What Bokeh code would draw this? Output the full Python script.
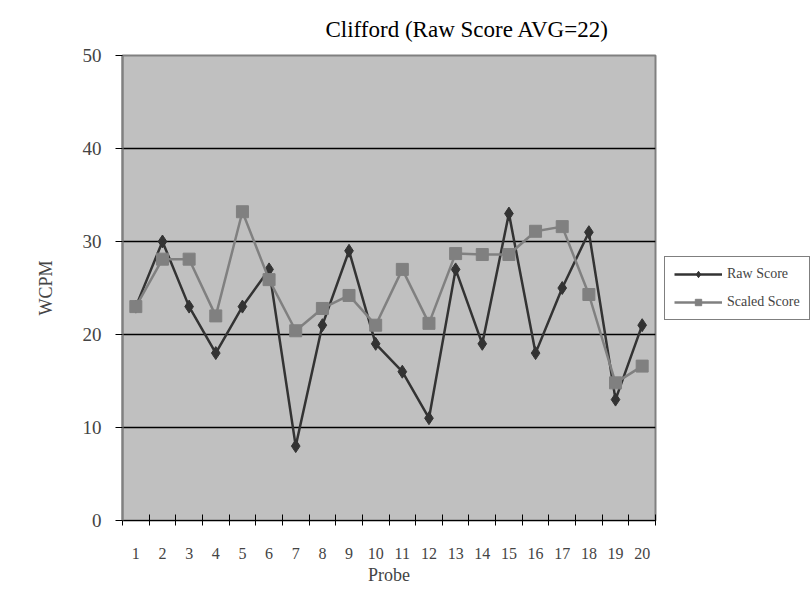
from bokeh.plotting import figure
from bokeh.models import (Legend, LegendItem, FixedTicker, Title, ColumnDataSource)
from bokeh.embed import file_html
from bokeh.resources import INLINE

probes = list(range(1, 21))
raw_score = [23, 30, 23, 18, 23, 27, 8, 21, 29, 19, 16, 11, 27, 19, 33, 18, 25, 31, 13, 21]
scaled_score = [23, 28.1, 28.1, 22, 33.2, 25.9, 20.4, 22.8, 24.2, 21.0, 27.0, 21.2,
                28.7, 28.6, 28.6, 31.1, 31.6, 24.3, 14.8, 16.6]
y_ticks = [0, 10, 20, 30, 40, 50]
title_text = "Clifford (Raw Score AVG=22)"

FONT = "Liberation Serif"

src = ColumnDataSource(dict(x=probes, raw=raw_score, scaled=scaled_score))

p = figure(frame_width=533, frame_height=465, output_backend="svg", toolbar_location=None,
           x_range=(0.5, 20.5), y_range=(0, 50),
           min_border_left=122, min_border_right=0, min_border_top=0, min_border_bottom=68)
p.border_fill_color = "white"
p.background_fill_color = "#C0C0C0"
p.outline_line_color = "#808080"
p.outline_line_width = 2

# title
t = Title(text=title_text, align="left", offset=203, text_font=FONT,
          text_font_size="23px", text_font_style="normal", text_color="black",
          standoff=28)
p.add_layout(t, "above")

# axes
p.xaxis.ticker = FixedTicker(ticks=probes, minor_ticks=[i + 0.5 for i in range(0, 21)])
p.xaxis.major_tick_line_color = None
p.xaxis.minor_tick_in = 6
p.xaxis.minor_tick_out = 5
p.xaxis.minor_tick_line_color = "black"
p.xaxis.axis_line_color = "black"
p.xaxis.major_label_standoff = 21
p.xaxis.major_label_text_font = FONT
p.xaxis.major_label_text_font_size = "16px"
p.xaxis.axis_label = "Probe"
p.xaxis.axis_label_text_font = FONT
p.xaxis.axis_label_text_font_size = "18px"
p.xaxis.axis_label_text_font_style = "normal"
p.xaxis.axis_label_standoff = 3

p.yaxis.ticker = FixedTicker(ticks=y_ticks)
p.yaxis.minor_tick_line_color = None
p.yaxis.major_tick_in = 0
p.yaxis.major_tick_out = 7
p.yaxis.major_tick_line_color = "black"
p.yaxis.axis_line_color = "#808080"
p.yaxis.axis_line_width = 2
p.yaxis.major_label_standoff = 14
p.yaxis.major_label_text_font = FONT
p.yaxis.major_label_text_font_size = "19px"
p.yaxis.axis_label = "WCPM"
p.yaxis.axis_label_text_font = FONT
p.yaxis.axis_label_text_font_size = "18px"
p.yaxis.axis_label_text_font_style = "normal"
p.yaxis.axis_label_standoff = 24

p.xgrid.grid_line_color = None
p.ygrid.ticker = FixedTicker(ticks=[10, 20, 30, 40])
p.ygrid.grid_line_color = "black"
p.ygrid.grid_line_width = 1.3

# series
l_raw = p.line("x", "raw", source=src, line_color="#333333", line_width=2.5)
s_raw = p.scatter("x", "raw", source=src, marker="diamond", size=13,
                  fill_color="#333333", line_color="#333333")
l_sc = p.line("x", "scaled", source=src, line_color="#808080", line_width=2.5)
s_sc = p.scatter("x", "scaled", source=src, marker="square", size=12,
                 fill_color="#808080", line_color="#808080")

legend = Legend(items=[LegendItem(label="Raw Score", renderers=[l_raw, s_raw]),
                       LegendItem(label="Scaled Score", renderers=[l_sc, s_sc])],
                location="center_left", margin=9, padding=9, spacing=12,
                glyph_width=48, glyph_height=16,
                label_text_font=FONT, label_text_font_size="14px",
                border_line_color="black", border_line_width=1,
                background_fill_color="white")
p.add_layout(legend, "right")

open("out.html", "w").write(file_html(p, INLINE))
